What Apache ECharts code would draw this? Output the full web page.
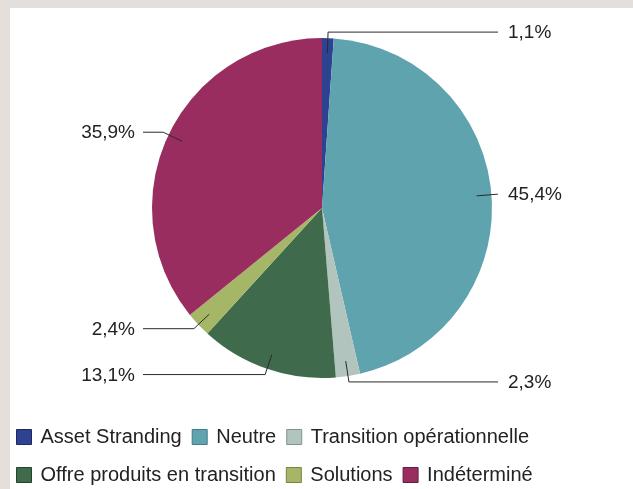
<!DOCTYPE html>
<html>
<head>
<meta charset="utf-8">
<script src="https://cdn.jsdelivr.net/npm/echarts@6/dist/echarts.min.js"></script>
<style>
  html, body { margin: 0; padding: 0; background: #e4dfdb; width: 633px; height: 489px; overflow: hidden; }
  #chart { position: absolute; left: 10px; top: 8px; width: 623px; height: 481px; background: #ffffff; }
</style>
</head>
<body>
<div id="chart"></div>
<script>
const categories = ['Asset Stranding', 'Neutre', 'Transition opérationnelle', 'Offre produits en transition', 'Solutions', 'Indéterminé'];
const values = [1.1, 45.4, 2.3, 13.1, 2.4, 35.9];
const valueLabels = ['1,1%', '45,4%', '2,3%', '13,1%', '2,4%', '35,9%'];
const colors = ['#2d4290', '#5fa3af', '#b2c4be', '#3f6a4b', '#a6b667', '#992d5f'];
const borderColors = ['#1c2a60', '#3f7d88', '#7f948d', '#24432d', '#76843f', '#661a3d'];

const CX = 312, CY = 200, R = 170;
const FONT = 'Liberation Sans, Arial, sans-serif';

const pieData = categories.map((c, i) => ({ name: c, value: values[i] }));

const chart = echarts.init(document.getElementById('chart'));
chart.setOption({
  animation: false,
  color: colors,
  legend: {
    left: 6,
    top: 415,
    width: 570,
    padding: 0,
    itemWidth: 15,
    itemHeight: 15,
    itemGap: 10,
    orient: 'horizontal',
    icon: 'rect',
    selectedMode: false,
    data: categories.map((c, i) => ({ name: c, itemStyle: { color: colors[i], borderColor: borderColors[i], borderWidth: 1 } })),
    textStyle: { fontFamily: FONT, fontSize: 20, color: '#222', lineHeight: 28, padding: [0, 0, 0, 4] }
  },
  series: [{
    type: 'pie',
    z: 2,
    center: [CX, CY],
    radius: R,
    startAngle: 90,
    clockwise: true,
    itemStyle: { borderWidth: 0 },
    label: { show: false },
    labelLine: { show: false },
    emphasis: { disabled: true },
    data: pieData
  }, {
    type: 'pie',
    z: 5,
    silent: true,
    center: [CX, CY],
    radius: R,
    startAngle: 90,
    clockwise: true,
    avoidLabelOverlap: false,
    itemStyle: { color: 'rgba(0,0,0,0)', borderWidth: 0 },
    label: {
      show: true,
      position: 'outside',
      fontFamily: FONT,
      fontSize: 19,
      color: '#222',
      formatter: p => valueLabels[p.dataIndex]
    },
    labelLine: { show: true, length: 6, length2: 10, lineStyle: { color: '#2a2a2a', width: 1 } },
    labelLayout: function (params) {
      const p = params.labelLinePoints;
      if (!p) return {};
      const isLeft = p[1][0] < CX;
      const dx = p[1][0] - p[0][0], dy = p[1][1] - p[0][1];
      const len = Math.hypot(dx, dy) || 1;
      const start = [p[0][0] - dx / len * 15, p[0][1] - dy / len * 15];
      const endX = isLeft ? CX - R - 9 : CX + R + 6;
      return {
        labelLinePoints: [start, [p[1][0], p[1][1]], [endX, p[1][1]]],
        x: isLeft ? endX - 8 : endX + 10,
        y: p[1][1] + 1,
        align: isLeft ? 'right' : 'left',
        verticalAlign: 'middle'
      };
    },
    emphasis: { disabled: true },
    data: pieData
  }]
});
</script>
</body>
</html>
